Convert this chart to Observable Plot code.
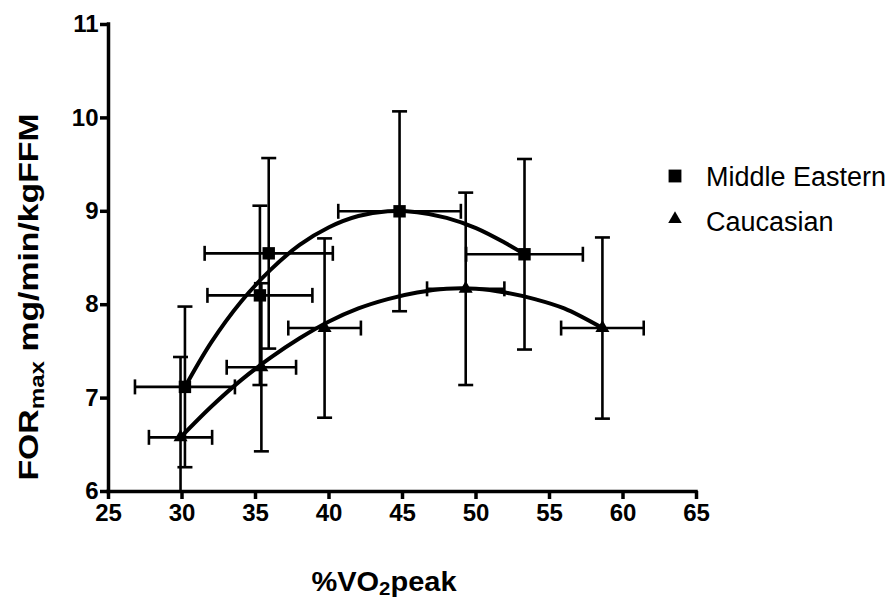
<!DOCTYPE html>
<html><head><meta charset="utf-8">
<script src="https://cdn.jsdelivr.net/npm/d3@7"></script>
<script src="https://cdn.jsdelivr.net/npm/@observablehq/plot@0.6"></script>
<style>body{margin:0;background:#fff;} #chart svg{font-family:"Liberation Sans",Arial,sans-serif;}</style>
</head><body><div id="chart"></div>
<script>
// Series names
const groups = ["Middle Eastern", "Caucasian"];
// Middle Eastern: means and SD (x = %VO2peak, y = FORmax)
const meX = [30.2, 35.3, 35.9, 44.8, 53.3];
const meY = [7.12, 8.10, 8.55, 9.00, 8.54];
const meXErr = [3.4, 3.57, 4.36, 4.17, 3.97];
const meYErr = [0.86, 0.96, 1.02, 1.07, 1.02];
// Caucasian
const caX = [29.9, 35.4, 39.7, 49.3, 58.6];
const caY = [6.58, 7.33, 7.75, 8.17, 7.75];
const caXErr = [2.15, 2.36, 2.47, 2.63, 2.81];
const caYErr = [0.86, 0.90, 0.96, 1.03, 0.97];
// Fitted curves
const meCurveX = [30.2, 32, 34, 36, 38, 40, 42, 44, 46, 48, 50, 52, 53.3];
const meCurveY = [7.12, 7.60, 8.03, 8.37, 8.64, 8.83, 8.95, 9.00, 8.99, 8.93, 8.82, 8.66, 8.54];
const caCurveX = [29.9, 32, 34, 36, 38, 40, 42, 44, 46, 48, 50, 52, 54, 56, 58.6];
const caCurveY = [6.58, 6.91, 7.19, 7.43, 7.64, 7.82, 7.96, 8.06, 8.13, 8.17, 8.17, 8.13, 8.06, 7.96, 7.75];
// Axis ticks
const xTicks = [25, 30, 35, 40, 45, 50, 55, 60, 65];
const yTicks = [6, 7, 8, 9, 10, 11];

const toRows = (xs, ys, xe, ye) => xs.map((x, i) => ({x, y: ys[i], xe: xe[i], ye: ye[i]}));
const me = toRows(meX, meY, meXErr, meYErr);
const ca = toRows(caX, caY, caXErr, caYErr);
const pts = [...me, ...ca];
const meCurve = meCurveX.map((x, i) => ({x, y: meCurveY[i]}));
const caCurve = caCurveX.map((x, i) => ({x, y: caCurveY[i]}));

const hCap = {draw(ctx, size) { const r = Math.sqrt(size / Math.PI); ctx.moveTo(-r, 0); ctx.lineTo(r, 0); }};
const vCap = {draw(ctx, size) { const r = Math.sqrt(size / Math.PI); ctx.moveTo(0, -r); ctx.lineTo(0, r); }};
const lowY = d => d.y - d.ye, highY = d => d.y + d.ye;
const lowX = d => d.x - d.xe, highX = d => d.x + d.xe;
const bw = 2.6;

const chart = Plot.plot({
  width: 889, height: 603,
  marginLeft: 108, marginRight: 193, marginTop: 24, marginBottom: 112,
  style: {background: "white", color: "black"},
  x: {domain: [xTicks[0], xTicks[xTicks.length - 1]]},
  y: {domain: [yTicks[0], yTicks[yTicks.length - 1]]},
  marks: [
    // error bars
    Plot.ruleX(pts, {x: "x", y1: lowY, y2: highY, stroke: "black", strokeWidth: bw, clip: true}),
    Plot.ruleY(pts, {y: "y", x1: lowX, x2: highX, stroke: "black", strokeWidth: bw}),
    Plot.dot(pts, {x: "x", y: lowY, symbol: hCap, r: 7.5, fill: "none", stroke: "black", strokeWidth: bw, clip: true}),
    Plot.dot(pts, {x: "x", y: highY, symbol: hCap, r: 7.5, fill: "none", stroke: "black", strokeWidth: bw}),
    Plot.dot(pts, {x: lowX, y: "y", symbol: vCap, r: 7.5, fill: "none", stroke: "black", strokeWidth: bw}),
    Plot.dot(pts, {x: highX, y: "y", symbol: vCap, r: 7.5, fill: "none", stroke: "black", strokeWidth: bw}),
    // curves
    Plot.line(meCurve, {x: "x", y: "y", curve: "catmull-rom", stroke: "black", strokeWidth: 4}),
    Plot.line(caCurve, {x: "x", y: "y", curve: "catmull-rom", stroke: "black", strokeWidth: 4}),
    // markers
    Plot.dot(me, {x: "x", y: "y", symbol: "square", r: 7, fill: "black"}),
    Plot.dot(ca, {x: "x", y: "y", symbol: "triangle", r: 5.2, fill: "black"}),
    // axes
    Plot.ruleX([xTicks[0]], {y1: yTicks[0], y2: yTicks[yTicks.length - 1], stroke: "black", strokeWidth: 3.5, strokeLinecap: "square"}),
    Plot.ruleY([yTicks[0]], {x1: xTicks[0], x2: xTicks[xTicks.length - 1], stroke: "black", strokeWidth: 3.5, strokeLinecap: "square"}),
    Plot.axisX({ticks: xTicks, tickFormat: "d", tickSize: 8, tickPadding: 4, strokeWidth: 3.5, label: null}),
    Plot.axisY({ticks: yTicks, tickFormat: "d", tickSize: 8, tickPadding: 2, strokeWidth: 3.5, label: null})
  ]
});
document.getElementById("chart").appendChild(chart);

const svg = d3.select(chart);
// enlarge and embolden the tick labels
svg.selectAll("g[aria-label$='tick label'], g[aria-label$='tick label'] text")
  .style("font-size", "24px").style("font-weight", "bold");

// y axis title
const yt = svg.append("text")
  .attr("transform", "translate(38,297) rotate(-90)")
  .attr("text-anchor", "middle")
  .attr("textLength", 367).attr("lengthAdjust", "spacingAndGlyphs")
  .attr("font-weight", "bold").attr("font-size", 28).attr("fill", "black");
yt.append("tspan").text("FOR");
yt.append("tspan").attr("font-size", 20).attr("dy", 6).text("max");
yt.append("tspan").attr("dy", -6).text(" mg/min/kgFFM");
// x axis title
const xt = svg.append("text")
  .attr("x", 384).attr("y", 591)
  .attr("text-anchor", "middle")
  .attr("textLength", 145).attr("lengthAdjust", "spacingAndGlyphs")
  .attr("font-weight", "bold").attr("font-size", 27).attr("fill", "black");
xt.append("tspan").text("%VO");
xt.append("tspan").attr("font-size", 19).attr("dy", 4).text("2");
xt.append("tspan").attr("dy", -4).text("peak");
// legend
const legendSymbols = [d3.symbolSquare, d3.symbolTriangle];
const legendY = [176, 219];
const legendBase = [186, 231];
groups.forEach((g, i) => {
  svg.append("path")
    .attr("transform", `translate(675,${legendY[i]})`)
    .attr("d", d3.symbol(legendSymbols[i], i === 0 ? 165 : 80)())
    .attr("fill", "black");
  svg.append("text")
    .attr("x", 706).attr("y", legendBase[i])
    .attr("text-anchor", "start")
    .attr("font-size", 27).attr("font-weight", "normal").attr("fill", "black")
    .text(g);
});
</script>
</body></html>
